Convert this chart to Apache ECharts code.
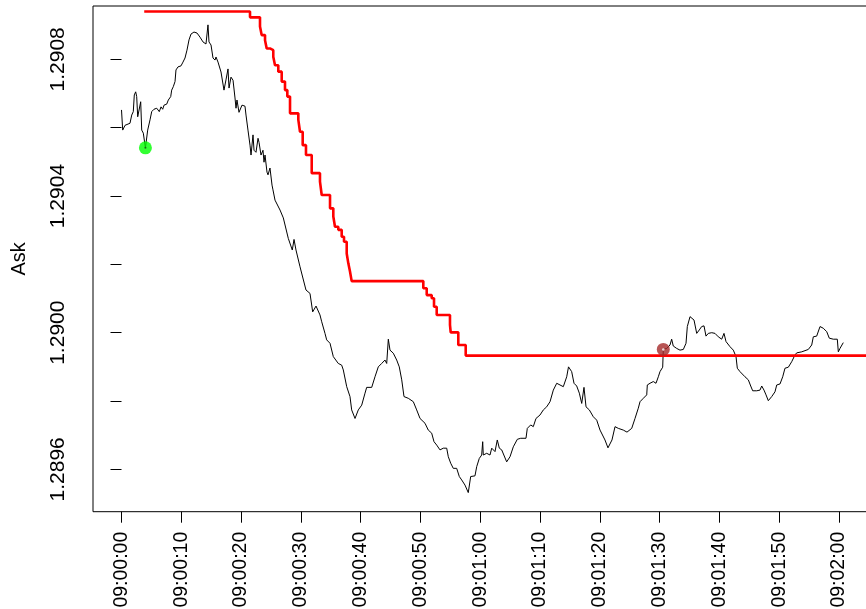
<!DOCTYPE html>
<html>
<head>
<meta charset="utf-8">
<script src="https://cdn.jsdelivr.net/npm/echarts@6/dist/echarts.min.js"></script>
<style>
  html, body { margin: 0; padding: 0; background: #fff; }
  #chart { width: 866px; height: 609px; }
</style>
</head>
<body>
<div id="chart"></div>
<script>
// Ask price ticks: [seconds after 09:00:00, ask]
const askTicks = [
  [0.00,1.290652],[0.20,1.290593],[0.59,1.290607],[1.42,1.290613],[1.71,1.290637],[1.97,1.290647],
  [2.14,1.290696],[2.37,1.290705],[2.54,1.290691],[2.71,1.290632],[2.93,1.290628],[3.21,1.290676],
  [3.38,1.290593],[3.65,1.290584],[4.00,1.290541],[4.38,1.290593],[4.77,1.290623],[5.05,1.290647],
  [5.43,1.290654],[5.89,1.290657],[6.32,1.290647],[6.61,1.290661],[6.89,1.290654],[7.11,1.290666],
  [7.56,1.290669],[7.83,1.290681],[8.23,1.290691],[8.39,1.290710],[8.66,1.290720],[8.95,1.290735],
  [9.11,1.290769],[9.45,1.290778],[9.95,1.290781],[10.28,1.290792],[10.62,1.290804],[10.95,1.290827],
  [11.29,1.290857],[11.62,1.290874],[12.12,1.290880],[12.63,1.290877],[13.13,1.290865],[13.63,1.290851],
  [14.13,1.290845],[14.46,1.290901],[14.63,1.290851],[14.97,1.290842],[15.30,1.290804],[15.64,1.290798],
  [15.80,1.290807],[16.14,1.290792],[16.30,1.290789],[16.64,1.290763],[17.14,1.290710],[17.47,1.290740],
  [17.81,1.290772],[17.98,1.290716],[18.31,1.290748],[18.65,1.290739],[18.98,1.290687],[19.15,1.290657],
  [19.31,1.290681],[19.65,1.290645],[20.15,1.290666],[20.65,1.290663],[20.82,1.290637],[21.15,1.290593],
  [21.49,1.290549],[21.66,1.290520],[21.99,1.290579],[22.16,1.290534],[22.49,1.290528],[22.83,1.290569],
  [23.00,1.290557],[23.33,1.290520],[23.66,1.290534],[23.83,1.290499],[24.00,1.290520],[24.33,1.290470],
  [24.50,1.290462],[24.83,1.290482],[25.17,1.290432],[25.33,1.290418],[25.67,1.290388],[26.51,1.290359],
  [27.06,1.290336],[27.89,1.290276],[28.56,1.290242],[28.85,1.290273],[29.18,1.290242],[29.85,1.290193],
  [30.85,1.290125],[31.52,1.290115],[31.97,1.290061],[32.53,1.290078],[33.19,1.290052],[33.48,1.290032],
  [34.03,1.289998],[34.31,1.289979],[34.87,1.289969],[35.42,1.289930],[36.25,1.289910],[36.82,1.289905],
  [37.09,1.289891],[37.66,1.289842],[38.21,1.289813],[38.49,1.289774],[39.05,1.289749],[39.60,1.289774],
  [40.17,1.289788],[40.72,1.289823],[41.00,1.289840],[41.84,1.289840],[42.39,1.289871],[42.94,1.289900],
  [43.51,1.289910],[44.06,1.289920],[44.35,1.289910],[44.62,1.289981],[44.90,1.289949],[45.45,1.289940],
  [46.02,1.289920],[46.45,1.289900],[46.86,1.289862],[47.24,1.289813],[47.96,1.289808],[48.80,1.289798],
  [49.36,1.289774],[49.92,1.289749],[50.75,1.289735],[51.30,1.289715],[51.87,1.289706],[52.26,1.289681],
  [52.71,1.289671],[53.26,1.289657],[53.81,1.289662],[54.38,1.289662],[54.65,1.289637],[55.05,1.289618],
  [55.48,1.289603],[56.05,1.289603],[56.49,1.289579],[56.89,1.289569],[57.44,1.289554],[57.99,1.289532],
  [58.39,1.289579],[59.11,1.289581],[59.40,1.289608],[59.83,1.289632],[60.23,1.289642],[60.40,1.289681],
  [60.50,1.289642],[61.07,1.289647],[61.62,1.289642],[61.91,1.289662],[62.46,1.289652],[62.84,1.289686],
  [63.18,1.289662],[63.58,1.289657],[64.41,1.289622],[64.97,1.289637],[65.52,1.289666],[66.19,1.289688],
  [66.76,1.289691],[67.64,1.289691],[67.86,1.289720],[68.43,1.289730],[68.86,1.289725],[69.31,1.289749],
  [69.98,1.289759],[70.54,1.289774],[71.10,1.289783],[71.66,1.289798],[72.21,1.289832],[72.78,1.289852],
  [73.88,1.289842],[74.45,1.289871],[74.75,1.289900],[75.28,1.289886],[75.67,1.289852],[76.12,1.289844],
  [76.56,1.289823],[76.96,1.289793],[77.34,1.289840],[77.68,1.289783],[78.23,1.289774],[78.90,1.289754],
  [79.47,1.289744],[80.02,1.289715],[80.85,1.289686],[81.35,1.289663],[82.02,1.289686],[82.53,1.289725],
  [83.08,1.289720],[83.91,1.289715],[84.53,1.289709],[85.32,1.289720],[85.87,1.289749],[86.42,1.289779],
  [86.71,1.289798],[87.26,1.289808],[87.83,1.289818],[87.93,1.289847],[88.38,1.289852],[88.93,1.289857],
  [89.38,1.289852],[89.77,1.289871],[90.05,1.289886],[90.50,1.289899],[90.60,1.289951],[91.17,1.289954],
  [91.72,1.289964],[92.00,1.289981],[92.27,1.289961],[92.84,1.289954],[93.39,1.289949],[93.95,1.289951],
  [94.40,1.289969],[94.62,1.290018],[95.07,1.290047],[95.35,1.290052],[95.74,1.290037],[96.19,1.289998],
  [96.62,1.290008],[97.02,1.290018],[97.41,1.290020],[97.74,1.289990],[98.13,1.289998],[98.70,1.290000],
  [99.25,1.289998],[99.80,1.289988],[100.37,1.289981],[100.75,1.289998],[101.09,1.289974],[101.76,1.289959],
  [102.31,1.289949],[102.76,1.289930],[102.98,1.289896],[103.43,1.289886],[104.26,1.289871],[104.82,1.289862],
  [105.22,1.289844],[105.55,1.289830],[106.22,1.289830],[106.77,1.289832],[107.06,1.289844],[107.44,1.289832],
  [107.78,1.289818],[108.16,1.289801],[108.73,1.289813],[109.28,1.289827],[109.57,1.289847],[110.12,1.289850],
  [110.57,1.289871],[110.95,1.289896],[111.51,1.289899],[112.07,1.289915],[112.63,1.289935],[112.91,1.289941],
  [113.75,1.289944],[114.85,1.289951],[115.42,1.289964],[115.69,1.289988],[116.25,1.289990],[116.81,1.290018],
  [117.36,1.290013],[117.93,1.290003],[118.36,1.289984],[119.03,1.289981],[119.70,1.289981],[119.87,1.289944],
  [120.15,1.289954],[120.70,1.289971]
];

// Trailing stop level: [seconds, new level from that moment]
const stopLevels = [
  [3.8,1.290940],[21.49,1.290923],[23.16,1.290896],[23.44,1.290871],[24.00,1.290856],[24.28,1.290832],
  [24.83,1.290827],[25.38,1.290808],[25.67,1.290783],[26.22,1.290764],[26.79,1.290735],[27.34,1.290710],
  [27.73,1.290691],[28.18,1.290642],[29.57,1.290623],[29.85,1.290588],[30.30,1.290549],[30.85,1.290520],
  [31.81,1.290467],[33.19,1.290442],[33.48,1.290403],[34.87,1.290364],[35.42,1.290340],[35.70,1.290310],
  [36.25,1.290301],[36.82,1.290281],[37.21,1.290266],[37.66,1.290232],[37.93,1.290203],[38.21,1.290179],
  [38.49,1.290151],[50.47,1.290130],[51.04,1.290110],[51.87,1.290101],[52.26,1.290076],[52.71,1.290052],
  [54.93,1.290023],[55.05,1.290001],[56.32,1.289964],[57.56,1.289933],[126.0,1.289933]
];

const entryPoint = [[4.00, 1.290541]];
const exitPoint = [[90.60, 1.289951]];

const xTicks = [0, 10, 20, 30, 40, 50, 60, 70, 80, 90, 100, 110, 120];
const yTicks = [1.2896, 1.2898, 1.2900, 1.2902, 1.2904, 1.2906, 1.2908];
const yLabels = [1.2896, 1.2900, 1.2904, 1.2908];

const FONT = '"Liberation Sans", Arial, Helvetica, sans-serif';

function clockLabel(sec) {
  const s = Math.round(sec);
  const mm = Math.floor(s / 60), ss = s % 60;
  return '09:' + String(mm).padStart(2, '0') + ':' + String(ss).padStart(2, '0');
}

const chart = echarts.init(document.getElementById('chart'), null, { renderer: 'canvas' });
chart.setOption({
  animation: false,
  backgroundColor: '#ffffff',
  grid: {
    left: 93, top: 6, width: 776, height: 505.7,
    containLabel: false, outerBoundsMode: 'none',
    show: true, borderColor: '#000', borderWidth: 1, backgroundColor: 'transparent'
  },
  xAxis: {
    type: 'value',
    min: -4.766, max: 125,
    axisLine: { show: false },
    splitLine: { show: false },
    axisTick: { show: true, length: 11, customValues: xTicks, lineStyle: { color: '#000', width: 1 } },
    axisLabel: {
      customValues: xTicks, rotate: 90, margin: 20,
      fontSize: 19.5, color: '#000', fontFamily: FONT,
      formatter: v => clockLabel(v)
    }
  },
  yAxis: {
    type: 'value',
    min: 1.2894761, max: 1.2909562,
    axisLine: { show: false },
    splitLine: { show: false },
    axisTick: { show: true, length: 11, customValues: yTicks, lineStyle: { color: '#000', width: 1 } },
    axisLabel: {
      customValues: yLabels, rotate: 90, margin: 24,
      fontSize: 21, color: '#000', fontFamily: FONT,
      formatter: v => v.toFixed(4)
    },
    name: 'Ask', nameLocation: 'middle', nameRotate: 90, nameGap: 64,
    nameTextStyle: { fontSize: 20, color: '#000', fontFamily: FONT }
  },
  series: [
    {
      name: 'Ask', type: 'line', data: askTicks, showSymbol: false, clip: true,
      lineStyle: { color: '#000', width: 1 }, z: 2
    },
    {
      name: 'Stop', type: 'line', data: stopLevels, step: 'end', showSymbol: false, clip: true,
      lineStyle: { color: '#ff0000', width: 2.6 }, z: 3
    },
    {
      name: 'Entry', type: 'scatter', data: entryPoint, symbolSize: 13,
      itemStyle: { color: '#00ff00' }, z: 4
    },
    {
      name: 'EntryCore', type: 'scatter', data: entryPoint, symbolSize: 2,
      itemStyle: { color: '#1a4a1a' }, z: 5
    },
    {
      name: 'Exit', type: 'scatter', data: exitPoint, symbolSize: 13,
      itemStyle: { color: '#a52a2a' }, z: 4
    },
    {
      name: 'ExitCore', type: 'scatter', data: exitPoint, symbolSize: 2.5,
      itemStyle: { color: '#ffffff' }, z: 5
    }
  ]
});
</script>
</body>
</html>
